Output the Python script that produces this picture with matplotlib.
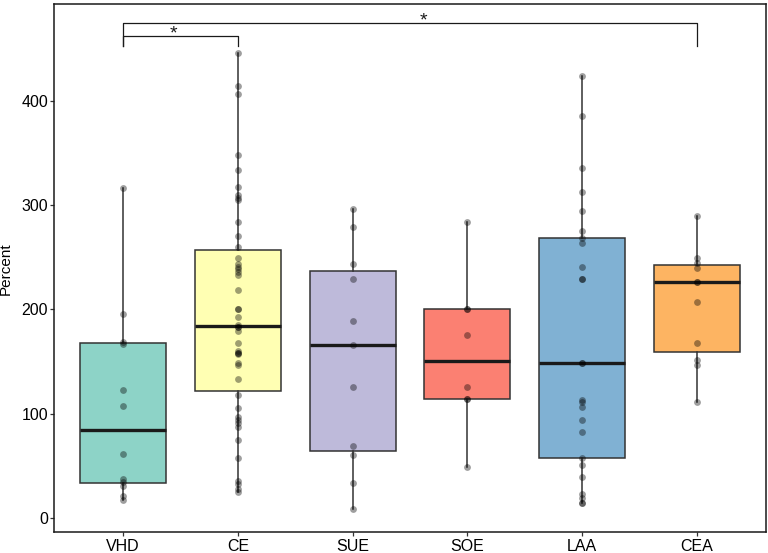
import matplotlib
matplotlib.use("Agg")
import matplotlib.pyplot as plt
import numpy as np

plt.rcParams['font.family'] = ['Liberation Sans', 'DejaVu Sans']

# Data
groups = ['VHD', 'CE', 'SUE', 'SOE', 'LAA', 'CEA']
colors = ['#8DD3C7', '#FFFFB3', '#BEBADA', '#FB8072', '#80B1D3', '#FDB462']

vhd = [317, 196, 169, 167, 123, 107, 61, 37, 34, 30, 21, 17]
ce = [446, 415, 407, 348, 334, 318, 310, 307, 305, 284, 271, 260, 249, 244,
      241, 239, 236, 233, 219, 200, 200, 193, 185, 183, 183, 179, 168, 160,
      158, 158, 157, 149, 147, 133, 118, 105, 97, 94, 91, 87, 75, 57, 35, 32,
      28, 25]
sue = [296, 279, 244, 229, 189, 166, 126, 69, 60, 33, 8]
soe = [284, 200, 200, 175, 126, 114, 114, 49]
laa = [424, 386, 336, 313, 295, 275, 269, 264, 241, 229, 229, 149, 149, 113,
       111, 106, 94, 82, 57, 51, 39, 23, 19, 14, 14]
cea = [290, 249, 245, 240, 226, 226, 207, 168, 151, 147, 111]
data = [vhd, ce, sue, soe, laa, cea]

# significance brackets: (from group, to group, line level)
brackets = [(1, 6, 475), (1, 2, 463)]
bracket_drop = 453
# star label positions (x in group units, baseline y in data units)
stars = [(3.62, 473), (1.44, 460)]

fig = plt.figure(figsize=(7.68, 5.53), dpi=100)
ax = fig.add_axes([0.0707, 0.0374, 0.9263, 0.9548])

pos = np.arange(1, len(groups) + 1)
bp = ax.boxplot(data, positions=pos, widths=0.75, patch_artist=True,
                showfliers=False, whis=1.5,
                boxprops=dict(edgecolor='#333333', linewidth=1.1),
                whiskerprops=dict(color='#333333', linewidth=1.1),
                capprops=dict(linewidth=0),
                medianprops=dict(color='#1a1a1a', linewidth=2.4))
for patch, c in zip(bp['boxes'], colors):
    patch.set_facecolor(c)

for i, vals in enumerate(data):
    ax.scatter(np.full(len(vals), pos[i]), vals, s=24, color='black',
               alpha=0.38, linewidths=0, zorder=5)

for a, b, y in brackets:
    ax.plot([a, a, b, b], [bracket_drop, y, y, bracket_drop],
            color='#1a1a1a', linewidth=0.9)
for x, y in stars:
    ax.text(x, y, '*', ha='center', va='baseline', fontsize=14, color='#1a1a1a')

ax.set_xlim(0.4, 6.6)
ax.set_ylim(-14, 493)
ax.set_xticks(pos)
ax.set_xticklabels(groups)
ax.set_yticks([0, 100, 200, 300, 400])
ax.set_ylabel('Percent', fontsize=11, labelpad=6)
ax.tick_params(axis='both', labelsize=11.5, length=3, width=0.9, pad=1.5,
               color='#333333', labelcolor='black')
for s in ax.spines.values():
    s.set_linewidth(1.1)
    s.set_color('#1a1a1a')

fig.savefig('out.png', dpi=100)
